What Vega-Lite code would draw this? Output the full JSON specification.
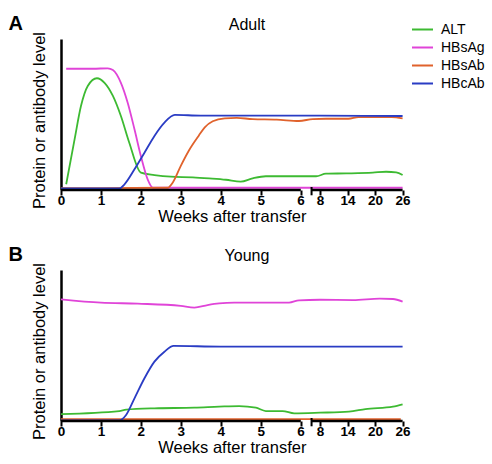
{
  "$schema": "https://vega.github.io/schema/vega-lite/v6.json",
  "padding": {"left": 8, "top": 14, "right": 2, "bottom": 2},
  "config": {
    "font": "Liberation Sans",
    "view": {"stroke": null},
    "axisX": {"domain": false, "grid": false, "tickColor": "black", "tickWidth": 2, "tickSize": 5, "labelFontSize": 13.5, "labelFontWeight": "bold", "labelColor": "black", "labelPadding": -2, "labelFlush": false, "labelOverlap": false, "titleFontSize": 16.5, "titleFontWeight": "normal", "titleColor": "black", "titlePadding": 2},
    "axisY": {"ticks": false, "labels": false, "grid": false, "domainWidth": 2.5, "domainColor": "black", "titleFontSize": 16.5, "titleFontWeight": "normal", "titleColor": "black", "titlePadding": 14, "titleY": 81}
  },
  "spacing": 20,
  "datasets": {
    "d": [
      {"panel":"Adult","series":"ALT","week":0.13,"value":3.8},
      {"panel":"Adult","series":"ALT","week":0.34,"value":33.5},
      {"panel":"Adult","series":"ALT","week":0.5,"value":55.6},
      {"panel":"Adult","series":"ALT","week":0.67,"value":68.9},
      {"panel":"Adult","series":"ALT","week":0.9,"value":74},
      {"panel":"Adult","series":"ALT","week":1.09,"value":71},
      {"panel":"Adult","series":"ALT","week":1.3,"value":62.3},
      {"panel":"Adult","series":"ALT","week":1.5,"value":49},
      {"panel":"Adult","series":"ALT","week":1.71,"value":31.3},
      {"panel":"Adult","series":"ALT","week":2.0,"value":11.5},
      {"panel":"Adult","series":"ALT","week":2.34,"value":9.9},
      {"panel":"Adult","series":"ALT","week":2.75,"value":8.8},
      {"panel":"Adult","series":"ALT","week":3.3,"value":8.4},
      {"panel":"Adult","series":"ALT","week":3.71,"value":7.7},
      {"panel":"Adult","series":"ALT","week":4.13,"value":6.8},
      {"panel":"Adult","series":"ALT","week":4.5,"value":5.5},
      {"panel":"Adult","series":"ALT","week":4.8,"value":7.7},
      {"panel":"Adult","series":"ALT","week":5.13,"value":9.1},
      {"panel":"Adult","series":"ALT","week":5.8,"value":9.1},
      {"panel":"Adult","series":"ALT","week":7.6,"value":9.1},
      {"panel":"Adult","series":"ALT","week":9.3,"value":10.8},
      {"panel":"Adult","series":"ALT","week":13.7,"value":11},
      {"panel":"Adult","series":"ALT","week":19.5,"value":11.5},
      {"panel":"Adult","series":"ALT","week":22.4,"value":12.1},
      {"panel":"Adult","series":"ALT","week":24.6,"value":11.7},
      {"panel":"Adult","series":"ALT","week":26,"value":9.9},
      {"panel":"Adult","series":"HBsAg","week":0.13,"value":80.3},
      {"panel":"Adult","series":"HBsAg","week":0.8,"value":80.3},
      {"panel":"Adult","series":"HBsAg","week":1.17,"value":80.6},
      {"panel":"Adult","series":"HBsAg","week":1.3,"value":79.5},
      {"panel":"Adult","series":"HBsAg","week":1.5,"value":71},
      {"panel":"Adult","series":"HBsAg","week":1.67,"value":57.8},
      {"panel":"Adult","series":"HBsAg","week":1.84,"value":40.2},
      {"panel":"Adult","series":"HBsAg","week":2.0,"value":22.5},
      {"panel":"Adult","series":"HBsAg","week":2.17,"value":7},
      {"panel":"Adult","series":"HBsAg","week":2.3,"value":1.5},
      {"panel":"Adult","series":"HBsAg","week":26,"value":1.5},
      {"panel":"Adult","series":"HBsAb","week":0,"value":1.2},
      {"panel":"Adult","series":"HBsAb","week":2.67,"value":1.5},
      {"panel":"Adult","series":"HBsAb","week":2.8,"value":5},
      {"panel":"Adult","series":"HBsAb","week":3.0,"value":16},
      {"panel":"Adult","series":"HBsAb","week":3.2,"value":26},
      {"panel":"Adult","series":"HBsAb","week":3.45,"value":36},
      {"panel":"Adult","series":"HBsAb","week":3.6,"value":41.5},
      {"panel":"Adult","series":"HBsAb","week":3.8,"value":45.5},
      {"panel":"Adult","series":"HBsAb","week":4.1,"value":47.5},
      {"panel":"Adult","series":"HBsAb","week":4.4,"value":47.8},
      {"panel":"Adult","series":"HBsAb","week":4.8,"value":46.9},
      {"panel":"Adult","series":"HBsAb","week":5.4,"value":46.6},
      {"panel":"Adult","series":"HBsAb","week":5.96,"value":45.7},
      {"panel":"Adult","series":"HBsAb","week":7.25,"value":47},
      {"panel":"Adult","series":"HBsAb","week":9.3,"value":47.2},
      {"panel":"Adult","series":"HBsAb","week":14.2,"value":47.2},
      {"panel":"Adult","series":"HBsAb","week":16.4,"value":48.3},
      {"panel":"Adult","series":"HBsAb","week":23.6,"value":48.3},
      {"panel":"Adult","series":"HBsAb","week":26,"value":47.5},
      {"panel":"Adult","series":"HBcAb","week":0,"value":1.1},
      {"panel":"Adult","series":"HBcAb","week":1.46,"value":1.1},
      {"panel":"Adult","series":"HBcAb","week":1.59,"value":3.8},
      {"panel":"Adult","series":"HBcAb","week":1.84,"value":13.7},
      {"panel":"Adult","series":"HBcAb","week":2.09,"value":24.7},
      {"panel":"Adult","series":"HBcAb","week":2.34,"value":35.8},
      {"panel":"Adult","series":"HBcAb","week":2.59,"value":44.6},
      {"panel":"Adult","series":"HBcAb","week":2.85,"value":49.7},
      {"panel":"Adult","series":"HBcAb","week":3.5,"value":49.3},
      {"panel":"Adult","series":"HBcAb","week":8,"value":49.2},
      {"panel":"Adult","series":"HBcAb","week":26,"value":49},
      {"panel":"Young","series":"ALT","week":0,"value":4.6},
      {"panel":"Young","series":"ALT","week":1.46,"value":6.6},
      {"panel":"Young","series":"ALT","week":1.63,"value":7.5},
      {"panel":"Young","series":"ALT","week":2.34,"value":8.4},
      {"panel":"Young","series":"ALT","week":3.34,"value":8.8},
      {"panel":"Young","series":"ALT","week":3.96,"value":9.5},
      {"panel":"Young","series":"ALT","week":4.46,"value":9.9},
      {"panel":"Young","series":"ALT","week":4.88,"value":8.8},
      {"panel":"Young","series":"ALT","week":5.13,"value":6.6},
      {"panel":"Young","series":"ALT","week":5.55,"value":6.6},
      {"panel":"Young","series":"ALT","week":5.84,"value":5.1},
      {"panel":"Young","series":"ALT","week":8,"value":5.5},
      {"panel":"Young","series":"ALT","week":14.3,"value":6.2},
      {"panel":"Young","series":"ALT","week":17.9,"value":7.9},
      {"panel":"Young","series":"ALT","week":23.9,"value":9.5},
      {"panel":"Young","series":"ALT","week":26,"value":11},
      {"panel":"Young","series":"HBsAg","week":0,"value":80.6},
      {"panel":"Young","series":"HBsAg","week":1.0,"value":78.4},
      {"panel":"Young","series":"HBsAg","week":1.92,"value":77.7},
      {"panel":"Young","series":"HBsAg","week":3.0,"value":76.2},
      {"panel":"Young","series":"HBsAg","week":3.34,"value":75.1},
      {"panel":"Young","series":"HBsAg","week":3.67,"value":76.8},
      {"panel":"Young","series":"HBsAg","week":3.96,"value":77.9},
      {"panel":"Young","series":"HBsAg","week":4.34,"value":78.4},
      {"panel":"Young","series":"HBsAg","week":5.71,"value":78.4},
      {"panel":"Young","series":"HBsAg","week":5.96,"value":79.9},
      {"panel":"Young","series":"HBsAg","week":8,"value":80.3},
      {"panel":"Young","series":"HBsAg","week":15.2,"value":80.1},
      {"panel":"Young","series":"HBsAg","week":21,"value":81},
      {"panel":"Young","series":"HBsAg","week":23.9,"value":80.8},
      {"panel":"Young","series":"HBsAg","week":26,"value":79},
      {"panel":"Young","series":"HBsAb","week":0,"value":1.3},
      {"panel":"Young","series":"HBsAb","week":25.6,"value":1.3},
      {"panel":"Young","series":"HBcAb","week":0,"value":0.4},
      {"panel":"Young","series":"HBcAb","week":1.46,"value":0.4},
      {"panel":"Young","series":"HBcAb","week":1.63,"value":4},
      {"panel":"Young","series":"HBcAb","week":1.84,"value":15},
      {"panel":"Young","series":"HBcAb","week":2.09,"value":28.3},
      {"panel":"Young","series":"HBcAb","week":2.34,"value":39.3},
      {"panel":"Young","series":"HBcAb","week":2.59,"value":45.9},
      {"panel":"Young","series":"HBcAb","week":2.82,"value":49.7},
      {"panel":"Young","series":"HBcAb","week":4,"value":49.3},
      {"panel":"Young","series":"HBcAb","week":8,"value":49.3},
      {"panel":"Young","series":"HBcAb","week":26,"value":49.2}
    ]
  },
  "vconcat": [
    {
      "title": {"text": "A", "orient": "left", "anchor": "end", "angle": 0, "fontSize": 20, "fontWeight": "bold", "align": "left", "baseline": "top", "offset": 8, "dy": -3, "color": "black"},
      "vconcat": [
        {
          "title": {"text": "Adult", "fontSize": 16, "fontWeight": "normal", "offset": -2, "dx": 15, "color": "black"},
          "width": 342,
          "height": 151,
          "layer": [
            {
              "data": {"name": "d"},
              "transform": [{"filter": "datum.panel === 'Adult'"}],
              "mark": {"type": "line", "strokeWidth": 1.8, "interpolate": "monotone", "clip": false},
              "encoding": {
                "x": {"field": "week", "type": "quantitative", "title": "Weeks after transfer",
                  "scale": {"domain": [0, 6, 8, 26], "range": [0, 239.6, 259, 341.6]},
                  "axis": {"values": [0,1,2,3,4,5,6,8,14,20,26], "labelOverlap": false}},
                "y": {"field": "value", "type": "quantitative", "title": "Protein or antibody level",
                  "scale": {"domain": [0, 100], "nice": false}},
                "color": {"field": "series", "type": "nominal",
                  "scale": {"domain": ["ALT", "HBsAg", "HBsAb", "HBcAb"], "range": ["#3dba32", "#e044d8", "#e0622c", "#2a3cc4"]},
                  "legend": {"orient": "none", "legendX": 350, "legendY": -17, "title": null, "labelFontSize": 14, "labelColor": "black", "symbolType": "stroke", "symbolSize": 441, "symbolStrokeWidth": 2, "clipHeight": 15, "rowPadding": 3, "labelOffset": 7}}
              }
            },
            {
              "data": {"values": [{}]},
              "mark": {"type": "rule", "strokeWidth": 2.5, "color": "black"},
              "encoding": {"x": {"datum": 0, "axis": {"values": [0,1,2,3,4,5,6,8,14,20,26], "labelOverlap": false}}, "x2": {"datum": 6.02}, "y": {"datum": 0}}
            },
            {
              "data": {"values": [{}]},
              "mark": {"type": "rule", "strokeWidth": 2.5, "color": "black"},
              "encoding": {"x": {"datum": 7.1, "axis": {"values": [0,1,2,3,4,5,6,8,14,20,26], "labelOverlap": false}}, "x2": {"datum": 26}, "y": {"datum": 0}}
            },
            {
              "data": {"values": [{}]},
              "mark": {"type": "rule", "strokeWidth": 2, "color": "black"},
              "encoding": {"x": {"datum": 7.13, "axis": {"values": [0,1,2,3,4,5,6,8,14,20,26], "labelOverlap": false}}, "y": {"datum": -3.5}, "y2": {"datum": 2}}
            }
          ]
        }
      ]
    },
    {
      "title": {"text": "B", "orient": "left", "anchor": "end", "angle": 0, "fontSize": 20, "fontWeight": "bold", "align": "left", "baseline": "top", "offset": 8, "dy": -3, "color": "black"},
      "vconcat": [
        {
          "title": {"text": "Young", "fontSize": 16, "fontWeight": "normal", "offset": -2, "dx": 15, "color": "black"},
          "width": 342,
          "height": 151,
          "layer": [
            {
              "data": {"name": "d"},
              "transform": [{"filter": "datum.panel === 'Young'"}],
              "mark": {"type": "line", "strokeWidth": 1.8, "interpolate": "monotone", "clip": false},
              "encoding": {
                "x": {"field": "week", "type": "quantitative", "title": "Weeks after transfer",
                  "scale": {"domain": [0, 6, 8, 26], "range": [0, 239.6, 259, 341.6]},
                  "axis": {"values": [0,1,2,3,4,5,6,8,14,20,26], "labelOverlap": false}},
                "y": {"field": "value", "type": "quantitative", "title": "Protein or antibody level",
                  "scale": {"domain": [0, 100], "nice": false}},
                "color": {"field": "series", "type": "nominal",
                  "scale": {"domain": ["ALT", "HBsAg", "HBsAb", "HBcAb"], "range": ["#3dba32", "#e044d8", "#e0622c", "#2a3cc4"]},
                  "legend": {"orient": "none", "legendX": 350, "legendY": -17, "title": null, "labelFontSize": 14, "labelColor": "black", "symbolType": "stroke", "symbolSize": 441, "symbolStrokeWidth": 2, "clipHeight": 15, "rowPadding": 3, "labelOffset": 7}}
              }
            },
            {
              "data": {"values": [{}]},
              "mark": {"type": "rule", "strokeWidth": 2.5, "color": "black"},
              "encoding": {"x": {"datum": 0, "axis": {"values": [0,1,2,3,4,5,6,8,14,20,26], "labelOverlap": false}}, "x2": {"datum": 6.02}, "y": {"datum": 0}}
            },
            {
              "data": {"values": [{}]},
              "mark": {"type": "rule", "strokeWidth": 2.5, "color": "black"},
              "encoding": {"x": {"datum": 7.1, "axis": {"values": [0,1,2,3,4,5,6,8,14,20,26], "labelOverlap": false}}, "x2": {"datum": 26}, "y": {"datum": 0}}
            },
            {
              "data": {"values": [{}]},
              "mark": {"type": "rule", "strokeWidth": 2, "color": "black"},
              "encoding": {"x": {"datum": 7.13, "axis": {"values": [0,1,2,3,4,5,6,8,14,20,26], "labelOverlap": false}}, "y": {"datum": -3.5}, "y2": {"datum": 2}}
            }
          ]
        }
      ]
    }
  ]
}
